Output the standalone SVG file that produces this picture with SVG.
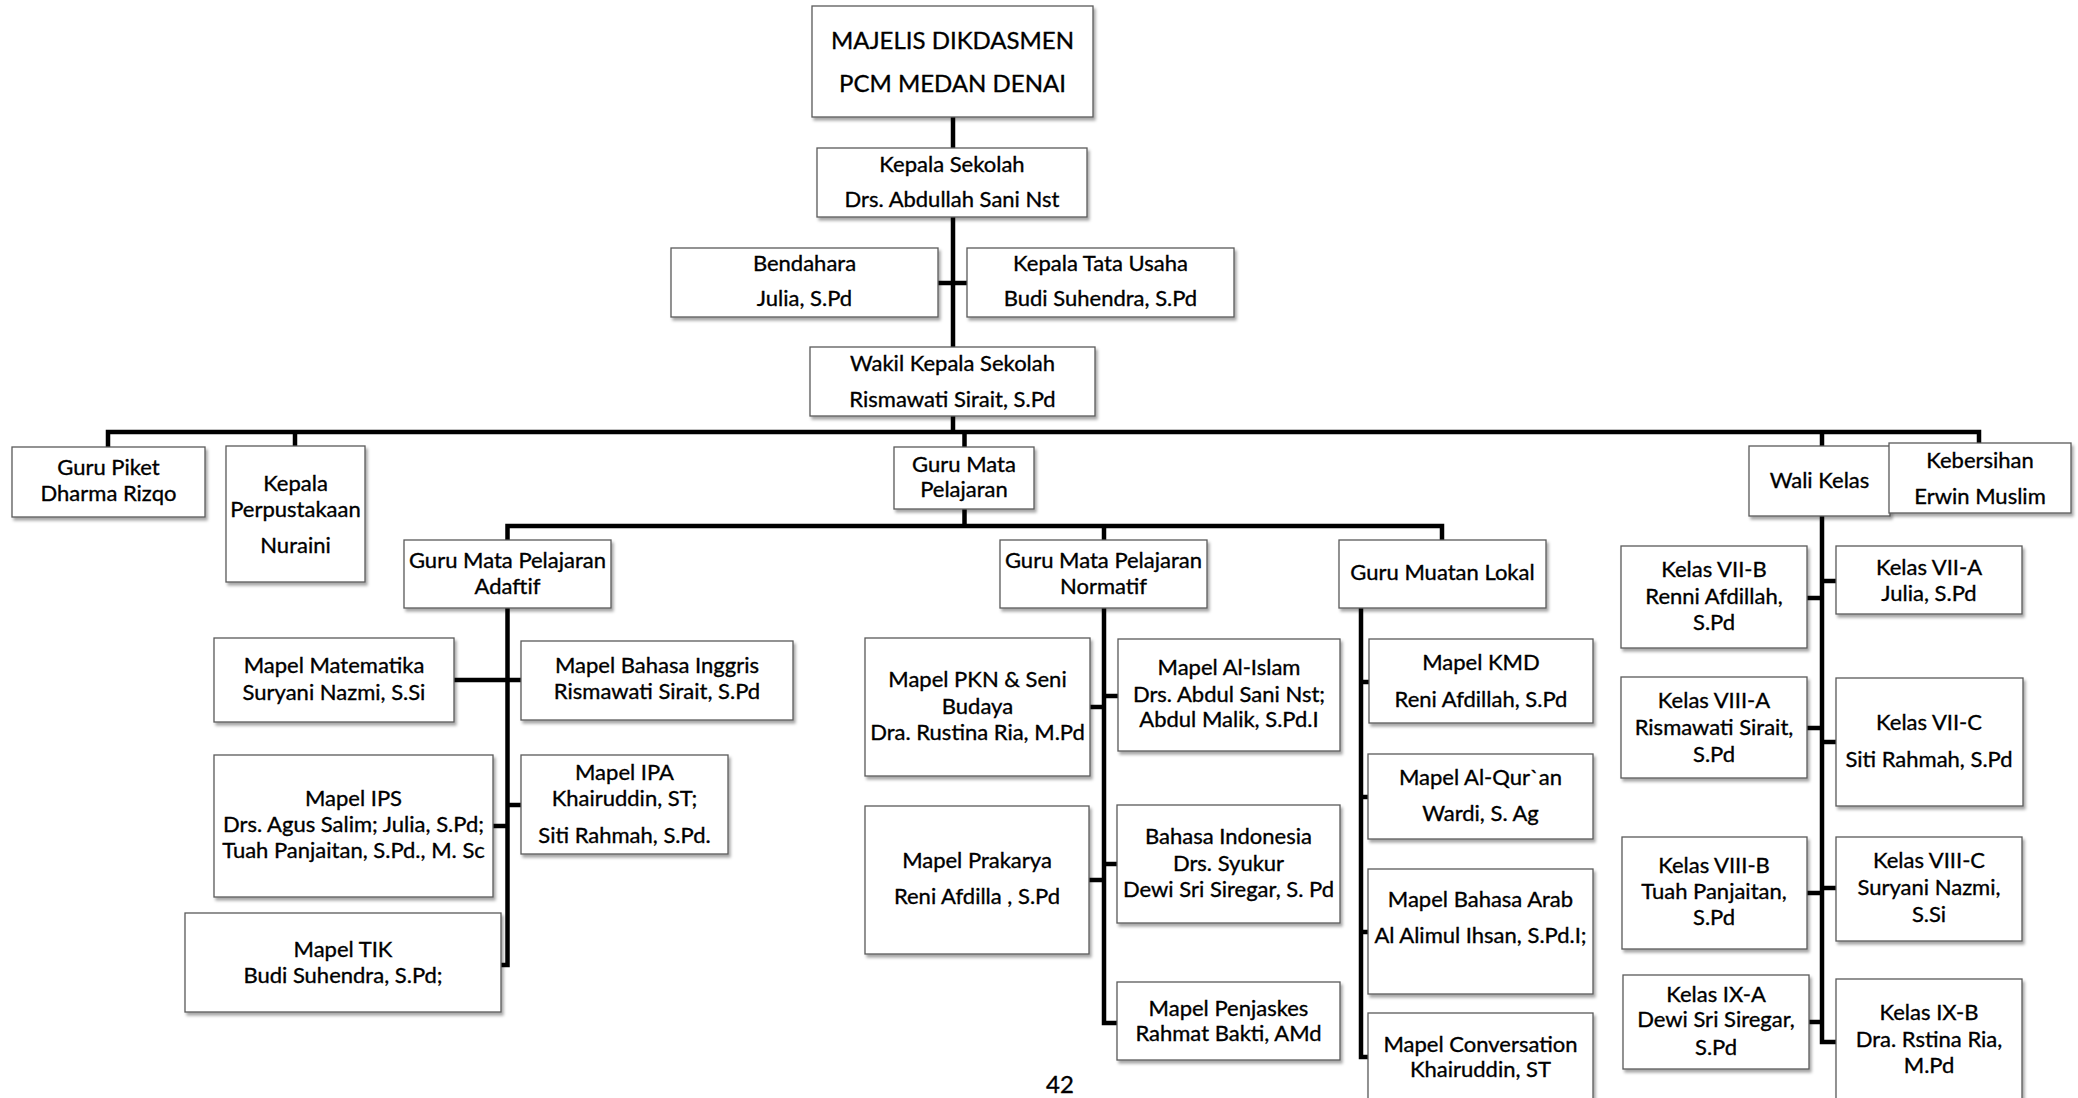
<svg xmlns="http://www.w3.org/2000/svg" width="2078" height="1098" viewBox="0 0 2078 1098">
<defs>
<filter id="sh" x="-10%" y="-10%" width="130%" height="140%">
<feDropShadow dx="2" dy="3" stdDeviation="1.6" flood-color="#000" flood-opacity="0.35"/>
</filter>
<style>
.b{fill:#fff;stroke:#5a5a5a;stroke-width:1.3;filter:url(#sh)}
.t{font-family:Lato,"Liberation Sans",sans-serif;font-size:22px;fill:#000;stroke:#000;stroke-width:0.35px;text-anchor:middle}
.big{font-size:24px}
.c{stroke:#000;stroke-width:4.5;fill:none;stroke-linejoin:miter;stroke-linecap:butt}
</style>
</defs>
<rect width="2078" height="1098" fill="#fff"/>
<g id="connectors">
<path class="c" d="M953,117V148"/>
<path class="c" d="M953,217V347"/>
<path class="c" d="M938,283H967"/>
<path class="c" d="M953,416V432"/>
<path class="c" d="M108,447V432H1979V443"/>
<path class="c" d="M295,432V446"/>
<path class="c" d="M964.5,432V447"/>
<path class="c" d="M1822,432V446"/>
<path class="c" d="M964.5,509V526"/>
<path class="c" d="M507.5,540V526H1442V540"/>
<path class="c" d="M1104,526V540"/>
<path class="c" d="M507.5,608V965H501"/>
<path class="c" d="M454,680H521"/>
<path class="c" d="M493,826H507.5"/>
<path class="c" d="M507.5,805H521"/>
<path class="c" d="M1104,608V1023H1117"/>
<path class="c" d="M1090,707H1104"/>
<path class="c" d="M1104,696H1118"/>
<path class="c" d="M1089,880H1104"/>
<path class="c" d="M1104,864H1117"/>
<path class="c" d="M1361,608V1057H1368"/>
<path class="c" d="M1361,682H1369"/>
<path class="c" d="M1361,797H1368"/>
<path class="c" d="M1361,932H1368"/>
<path class="c" d="M1822,516V1042H1836"/>
<path class="c" d="M1807,598H1822"/>
<path class="c" d="M1822,581H1836"/>
<path class="c" d="M1807,728H1822"/>
<path class="c" d="M1822,742H1836"/>
<path class="c" d="M1807,893H1822"/>
<path class="c" d="M1822,888H1836"/>
<path class="c" d="M1809,1022H1822"/>
</g>
<g id="majelis"><rect class="b" x="812" y="6" width="281" height="111"/><text class="t big"><tspan x="952.5" y="49">MAJELIS DIKDASMEN</tspan><tspan x="952.5" y="92">PCM MEDAN DENAI</tspan></text></g>
<g id="kepala-sekolah"><rect class="b" x="817" y="148" width="270" height="69"/><text class="t"><tspan x="952" y="172">Kepala Sekolah</tspan><tspan x="952" y="207">Drs. Abdullah Sani Nst</tspan></text></g>
<g id="bendahara"><rect class="b" x="671" y="248" width="267" height="69"/><text class="t"><tspan x="804.5" y="271">Bendahara</tspan><tspan x="804.5" y="306">Julia, S.Pd</tspan></text></g>
<g id="kepala-tu"><rect class="b" x="967" y="248" width="267" height="69"/><text class="t"><tspan x="1100.5" y="271">Kepala Tata Usaha</tspan><tspan x="1100.5" y="306">Budi Suhendra, S.Pd</tspan></text></g>
<g id="wakil"><rect class="b" x="810" y="347" width="285" height="69"/><text class="t"><tspan x="952.5" y="371">Wakil Kepala Sekolah</tspan><tspan x="952.5" y="407">Rismawati Sirait, S.Pd</tspan></text></g>
<g id="guru-piket"><rect class="b" x="12" y="447" width="193" height="70"/><text class="t"><tspan x="108.5" y="475">Guru Piket</tspan><tspan x="108.5" y="501">Dharma Rizqo</tspan></text></g>
<g id="perpustakaan"><rect class="b" x="226" y="446" width="139" height="136"/><text class="t"><tspan x="295.5" y="491">Kepala</tspan><tspan x="295.5" y="517">Perpustakaan</tspan><tspan x="295.5" y="553">Nuraini</tspan></text></g>
<g id="guru-mapel"><rect class="b" x="894" y="447" width="140" height="62"/><text class="t"><tspan x="964" y="472">Guru Mata</tspan><tspan x="964" y="497">Pelajaran</tspan></text></g>
<g id="adaftif"><rect class="b" x="404" y="540" width="207" height="68"/><text class="t"><tspan x="507.5" y="568">Guru Mata Pelajaran</tspan><tspan x="507.5" y="594">Adaftif</tspan></text></g>
<g id="matematika"><rect class="b" x="214" y="638" width="240" height="84"/><text class="t"><tspan x="334" y="673">Mapel Matematika</tspan><tspan x="334" y="700">Suryani Nazmi, S.Si</tspan></text></g>
<g id="inggris"><rect class="b" x="521" y="641" width="272" height="79"/><text class="t"><tspan x="657" y="673">Mapel Bahasa Inggris</tspan><tspan x="657" y="699">Rismawati Sirait, S.Pd</tspan></text></g>
<g id="ips"><rect class="b" x="214" y="755" width="279" height="142"/><text class="t"><tspan x="353.5" y="806">Mapel IPS</tspan><tspan x="353.5" y="832">Drs. Agus Salim; Julia, S.Pd;</tspan><tspan x="353.5" y="858">Tuah Panjaitan, S.Pd., M. Sc</tspan></text></g>
<g id="ipa"><rect class="b" x="521" y="755" width="207" height="99"/><text class="t"><tspan x="624.5" y="780">Mapel IPA</tspan><tspan x="624.5" y="806">Khairuddin, ST;</tspan><tspan x="624.5" y="843">Siti Rahmah, S.Pd.</tspan></text></g>
<g id="tik"><rect class="b" x="185" y="913" width="316" height="99"/><text class="t"><tspan x="343" y="957">Mapel TIK</tspan><tspan x="343" y="983">Budi Suhendra, S.Pd;</tspan></text></g>
<g id="normatif"><rect class="b" x="1000" y="540" width="207" height="68"/><text class="t"><tspan x="1103.5" y="568">Guru Mata Pelajaran</tspan><tspan x="1103.5" y="594">Normatif</tspan></text></g>
<g id="pkn"><rect class="b" x="865" y="638" width="225" height="138"/><text class="t"><tspan x="977.5" y="687">Mapel PKN &amp; Seni</tspan><tspan x="977.5" y="714">Budaya</tspan><tspan x="977.5" y="740">Dra. Rustina Ria, M.Pd</tspan></text></g>
<g id="al-islam"><rect class="b" x="1118" y="639" width="222" height="112"/><text class="t"><tspan x="1229" y="675">Mapel Al-Islam</tspan><tspan x="1229" y="702">Drs. Abdul Sani Nst;</tspan><tspan x="1229" y="727">Abdul Malik, S.Pd.I</tspan></text></g>
<g id="prakarya"><rect class="b" x="865" y="806" width="224" height="148"/><text class="t"><tspan x="977" y="868">Mapel Prakarya</tspan><tspan x="977" y="904">Reni Afdilla , S.Pd</tspan></text></g>
<g id="bahasa-indonesia"><rect class="b" x="1117" y="805" width="223" height="118"/><text class="t"><tspan x="1228.5" y="844">Bahasa Indonesia</tspan><tspan x="1228.5" y="871">Drs. Syukur</tspan><tspan x="1228.5" y="897">Dewi Sri Siregar, S. Pd</tspan></text></g>
<g id="penjaskes"><rect class="b" x="1117" y="982" width="223" height="78"/><text class="t"><tspan x="1228.5" y="1016">Mapel Penjaskes</tspan><tspan x="1228.5" y="1041">Rahmat Bakti, AMd</tspan></text></g>
<g id="muatan-lokal"><rect class="b" x="1339" y="540" width="207" height="68"/><text class="t"><tspan x="1442.5" y="580">Guru Muatan Lokal</tspan></text></g>
<g id="kmd"><rect class="b" x="1369" y="639" width="224" height="84"/><text class="t"><tspan x="1481" y="670">Mapel KMD</tspan><tspan x="1481" y="707">Reni Afdillah, S.Pd</tspan></text></g>
<g id="al-quran"><rect class="b" x="1368" y="754" width="225" height="85"/><text class="t"><tspan x="1480.5" y="785">Mapel Al-Qur`an</tspan><tspan x="1480.5" y="821">Wardi, S. Ag</tspan></text></g>
<g id="bahasa-arab"><rect class="b" x="1368" y="869" width="225" height="125"/><text class="t"><tspan x="1480.5" y="907">Mapel Bahasa Arab</tspan><tspan x="1480.5" y="943">Al Alimul Ihsan, S.Pd.I;</tspan></text></g>
<g id="conversation"><rect class="b" x="1368" y="1013" width="225" height="100"/><text class="t"><tspan x="1480.5" y="1052">Mapel Conversation</tspan><tspan x="1480.5" y="1077">Khairuddin, ST</tspan></text></g>
<g id="wali-kelas"><rect class="b" x="1749" y="446" width="141" height="70"/><text class="t"><tspan x="1819.5" y="488">Wali Kelas</tspan></text></g>
<g id="kebersihan"><rect class="b" x="1889" y="443" width="182" height="70"/><text class="t"><tspan x="1980" y="468">Kebersihan</tspan><tspan x="1980" y="504">Erwin Muslim</tspan></text></g>
<g id="kelas-7b"><rect class="b" x="1621" y="546" width="186" height="102"/><text class="t"><tspan x="1714" y="577">Kelas VII-B</tspan><tspan x="1714" y="604">Renni Afdillah,</tspan><tspan x="1714" y="630">S.Pd</tspan></text></g>
<g id="kelas-7a"><rect class="b" x="1836" y="546" width="186" height="68"/><text class="t"><tspan x="1929" y="575">Kelas VII-A</tspan><tspan x="1929" y="601">Julia, S.Pd</tspan></text></g>
<g id="kelas-8a"><rect class="b" x="1621" y="677" width="186" height="101"/><text class="t"><tspan x="1714" y="708">Kelas VIII-A</tspan><tspan x="1714" y="735">Rismawati Sirait,</tspan><tspan x="1714" y="762">S.Pd</tspan></text></g>
<g id="kelas-7c"><rect class="b" x="1836" y="678" width="187" height="128"/><text class="t"><tspan x="1929" y="730">Kelas VII-C</tspan><tspan x="1929" y="767">Siti Rahmah, S.Pd</tspan></text></g>
<g id="kelas-8b"><rect class="b" x="1622" y="837" width="185" height="112"/><text class="t"><tspan x="1714" y="873">Kelas VIII-B</tspan><tspan x="1714" y="899">Tuah Panjaitan,</tspan><tspan x="1714" y="925">S.Pd</tspan></text></g>
<g id="kelas-8c"><rect class="b" x="1836" y="837" width="186" height="104"/><text class="t"><tspan x="1929" y="868">Kelas VIII-C</tspan><tspan x="1929" y="895">Suryani Nazmi,</tspan><tspan x="1929" y="922">S.Si</tspan></text></g>
<g id="kelas-9a"><rect class="b" x="1623" y="975" width="186" height="94"/><text class="t"><tspan x="1716" y="1002">Kelas IX-A</tspan><tspan x="1716" y="1027">Dewi Sri Siregar,</tspan><tspan x="1716" y="1055">S.Pd</tspan></text></g>
<g id="kelas-9b"><rect class="b" x="1836" y="979" width="186" height="130"/><text class="t"><tspan x="1929" y="1020">Kelas IX-B</tspan><tspan x="1929" y="1047">Dra. Rstina Ria,</tspan><tspan x="1929" y="1073">M.Pd</tspan></text></g>
<text class="t big" x="1060" y="1093">42</text>
</svg>
